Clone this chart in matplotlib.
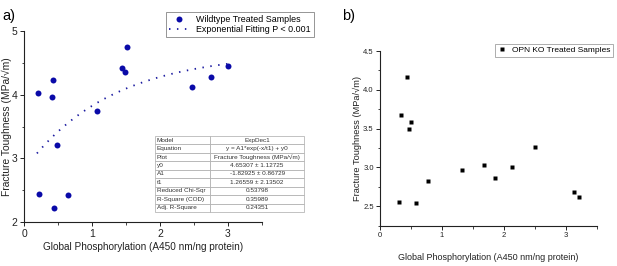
import matplotlib
matplotlib.use("Agg")
import matplotlib.pyplot as plt
import numpy as np
from matplotlib.ticker import MultipleLocator

plt.rcParams['font.family'] = ['Liberation Sans', 'DejaVu Sans']

# panel a: wildtype treated samples
wt_x = [0.20, 0.22, 0.41, 0.43, 0.44, 0.49, 0.64, 1.07, 1.44, 1.49, 1.52, 2.47, 2.75, 3.00]
wt_y = [4.02, 2.44, 3.96, 4.23, 2.22, 3.21, 2.42, 3.75, 4.41, 4.35, 4.75, 4.12, 4.28, 4.45]

# exponential fit parameters (ExpDec1) as printed in the table
y0 = 4.65307
A1 = -1.82925
t1 = 1.26559
fit_range = (0.19, 3.0)

table_rows = [
    ["Model", "ExpDec1"],
    ["Equation", "y = A1*exp(-x/t1) + y0"],
    ["Plot", "Fracture Toughness (MPa/\u221am)"],
    ["y0", "4.65307 \u00b1 1.12725"],
    ["A1", "-1.82925 \u00b1 0.86729"],
    ["t1", "1.26559 \u00b1 2.13502"],
    ["Reduced Chi-Sqr", "0.53798"],
    ["R-Square (COD)", "0.35989"],
    ["Adj. R-Square", "0.24351"],
]

# panel b: OPN KO treated samples
ko_x = [0.30, 0.34, 0.44, 0.47, 0.50, 0.59, 0.77, 1.32, 1.68, 1.86, 2.13, 2.51, 3.14, 3.22]
ko_y = [2.55, 3.68, 4.16, 3.49, 3.58, 2.54, 2.82, 2.97, 3.03, 2.87, 3.01, 3.26, 2.68, 2.62]

xlabel = "Global Phosphorylation (A450 nm/ng protein)"
ylabel = "Fracture Toughness (MPa/\u221am)"

W, H = 617, 266
fig = plt.figure(figsize=(W / 100, H / 100), dpi=100)


def px_axes(left, top, right, bottom):
    return fig.add_axes([left / W, 1 - bottom / H, (right - left) / W, (bottom - top) / H])


def style(ax, fs):
    for s in ['top', 'right']:
        ax.spines[s].set_visible(False)
    for s in ['left', 'bottom']:
        ax.spines[s].set_linewidth(0.8)
        ax.spines[s].set_color('#222222')
    ax.tick_params(which='major', direction='out', length=3, width=0.7,
                   labelsize=fs, colors='#222222', pad=1.5)
    ax.tick_params(which='minor', direction='out', length=1.8, width=0.6, colors='#222222')


# ---- a)
ax1 = px_axes(24, 30.7, 262, 222.3)
ax1.plot(wt_x, wt_y, 'o', color='#0a0aa8', ms=4.3, mec='none', label='Wildtype Treated Samples')
xf = np.linspace(fit_range[0], fit_range[1], 200)
ax1.plot(xf, A1 * np.exp(-xf / t1) + y0, color='#1a1aa0', lw=1.3,
         linestyle=(0, (0.8, 3.6)), label='Exponential Fitting P < 0.001')
ax1.set_xlim(0, 3.5)
ax1.set_ylim(2, 5)
ax1.xaxis.set_major_locator(MultipleLocator(1))
ax1.xaxis.set_minor_locator(MultipleLocator(0.5))
ax1.yaxis.set_major_locator(MultipleLocator(1))
ax1.yaxis.set_minor_locator(MultipleLocator(0.5))
style(ax1, 7.5)
ax1.set_xlabel(xlabel, fontsize=7.2, color='#222222')
ax1.set_ylabel(ylabel, fontsize=7.4, color='#222222')
ax1.xaxis.set_label_coords(0.5, (222.3 - 247) / 191.6, transform=ax1.transAxes)
ax1.yaxis.set_label_coords((6.5 - 24) / 238, 0.5, transform=ax1.transAxes)
ax1.xaxis.label.set_va('center')
ax1.yaxis.label.set_va('center')
leg1 = ax1.legend(loc='upper left', bbox_to_anchor=((166 - 24) / 238, 1 + (30.7 - 12) / 191.6),
                  fontsize=6.4, frameon=True, fancybox=False, borderpad=0.3,
                  labelspacing=0.2, handlelength=2.4, handletextpad=0.7, borderaxespad=0)
leg1.get_frame().set_edgecolor('#666666')
leg1.get_frame().set_linewidth(0.6)
fig.text(2 / W, 1 - 16 / H, "a)", fontsize=10.5, va='center', ha='left')

tb = ax1.table(cellText=table_rows, cellLoc='center', colWidths=[0.37, 0.63],
               bbox=[(155 - 24) / 238, (222.3 - 212) / 191.6, (304 - 155) / 238, 76 / 191.6])
tb.auto_set_font_size(False)
tb.set_fontsize(4.6)
for (r, c), cell in tb.get_celld().items():
    cell.set_edgecolor('#aaaaaa')
    cell.set_linewidth(0.5)
    cell.get_text().set_color('#333333')
    if c == 0:
        cell.get_text().set_ha('left')
        cell.PAD = 0.03

# ---- b)
ax2 = px_axes(380, 51, 596.5, 225.7)
ax2.plot(ko_x, ko_y, 's', color='black', ms=3.0, mec='none', label='OPN KO Treated Samples')
ax2.set_xlim(0, 3.5)
ax2.set_ylim(2.25, 4.5)
ax2.xaxis.set_major_locator(MultipleLocator(1))
ax2.xaxis.set_minor_locator(MultipleLocator(0.5))
ax2.yaxis.set_major_locator(MultipleLocator(0.5))
ax2.yaxis.set_minor_locator(MultipleLocator(0.25))
ax2.yaxis.set_major_formatter(matplotlib.ticker.FormatStrFormatter('%.1f'))
style(ax2, 5.5)
ax2.set_xlabel(xlabel, fontsize=6.5, color='#222222')
ax2.set_ylabel(ylabel, fontsize=6.7, color='#222222')
ax2.xaxis.set_label_coords(0.5, (225.7 - 258) / 174.7, transform=ax2.transAxes)
ax2.yaxis.set_label_coords((357 - 380) / 216.5, 0.5, transform=ax2.transAxes)
ax2.xaxis.label.set_va('center')
ax2.yaxis.label.set_va('center')
leg2 = ax2.legend(loc='upper left', bbox_to_anchor=((495 - 380) / 216.5, 1 + (51 - 44) / 174.7),
                  fontsize=6.0, frameon=True, fancybox=False, borderpad=0.3,
                  handlelength=1.0, handletextpad=0.8, borderaxespad=0)
leg2.get_frame().set_edgecolor('#888888')
leg2.get_frame().set_linewidth(0.6)
fig.text(342 / W, 1 - 16 / H, "b)", fontsize=10.5, va='center', ha='left')

fig.savefig("out.png", dpi=100)
